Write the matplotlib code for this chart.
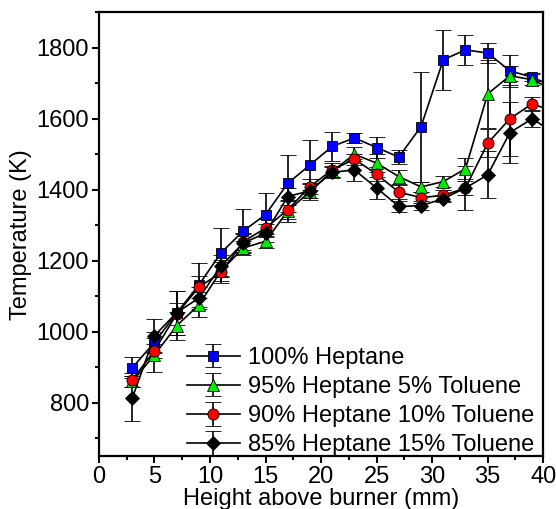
import matplotlib.pyplot as plt
import numpy as np

plt.rcParams['font.family'] = ['Liberation Sans', 'DejaVu Sans']

# Height above burner (mm); the last point lies past the axis edge
height = [3, 5, 7, 9, 11, 13, 15, 17, 19, 21, 23, 25, 27, 29, 31, 33, 35, 37, 39, 41]

t_100 = [899, 970, 1053, 1132, 1223, 1284, 1330, 1418, 1470, 1522,
         1546, 1519, 1492, 1578, 1766, 1794, 1785, 1735, 1717, 1690]
e_100 = [30, 30, 62, 63, 70, 62, 61, 80, 70, 42,
         14, 29, 20, 155, 84, 42, 27, 45, 12, 10]

t_95 = [860, 935, 1017, 1076, 1172, 1236, 1255, 1340, 1395, 1452,
        1500, 1475, 1437, 1408, 1423, 1459, 1670, 1721, 1710, 1680]
e_95 = [15, 47, 40, 35, 30, 20, 20, 30, 25, 15,
        20, 25, 20, 15, 15, 30, 96, 27, 15, 10]

t_90 = [865, 947, 1050, 1126, 1167, 1254, 1292, 1344, 1409, 1456,
        1486, 1444, 1393, 1378, 1384, 1405, 1531, 1600, 1642, 1620]
e_90 = [20, 20, 30, 30, 30, 25, 25, 25, 20, 20,
        15, 20, 20, 15, 15, 20, 40, 106, 18, 10]

t_85 = [813, 989, 1054, 1095, 1186, 1250, 1278, 1381, 1397, 1449,
        1456, 1405, 1353, 1355, 1375, 1405, 1442, 1561, 1600, 1560]
e_85 = [63, 47, 62, 30, 30, 25, 25, 25, 20, 15,
        30, 30, 15, 13, 10, 61, 66, 85, 22, 10]

labels = ['100% Heptane', '95% Heptane 5% Toluene',
          '90% Heptane 10% Toluene', '85% Heptane 15% Toluene']

fig = plt.figure(figsize=(5.56, 5.09), dpi=100)
ax = fig.add_axes([0.178, 0.104, 0.799, 0.872])

series = [
    (t_100, e_100, 's', '#0000ff', 7),
    (t_95, e_95, '^', '#00ee00', 8),
    (t_90, e_90, 'o', '#ff0000', 8),
    (t_85, e_85, 'D', '#000000', 7),
]

for (t, e, m, c, ms), lab in zip(series, labels):
    ax.errorbar(height, t, yerr=e, fmt='-', color='black', lw=1.2,
                ecolor='black', elinewidth=1.2, capsize=6, capthick=1.2,
                marker=m, markersize=ms, markerfacecolor=c,
                markeredgecolor='black', markeredgewidth=0.6, label=lab)

ax.set_xlim(0, 40)
ax.set_ylim(650, 1900)
ax.set_xticks(np.arange(0, 41, 5))
ax.set_xticks(np.arange(2.5, 40, 5), minor=True)
ax.set_yticks(np.arange(800, 1801, 200))
ax.set_yticks(np.arange(700, 1901, 200), minor=True)

ax.tick_params(which='major', direction='out', length=5, width=1.5,
               labelsize=17, pad=2)
ax.tick_params(which='minor', direction='out', length=3, width=1.5)
for s in ax.spines.values():
    s.set_linewidth(1.6)

ax.set_xlabel('Height above burner (mm)', fontsize=17, labelpad=0)
ax.set_ylabel('Temperature (K)', fontsize=17, labelpad=3)

ax.legend(loc='lower left', bbox_to_anchor=(0.198, 0.0), frameon=False,
          fontsize=17, handlelength=2.25, handletextpad=0.34,
          labelspacing=0.3, borderpad=0, borderaxespad=0)

fig.savefig('out.png', dpi=100)
